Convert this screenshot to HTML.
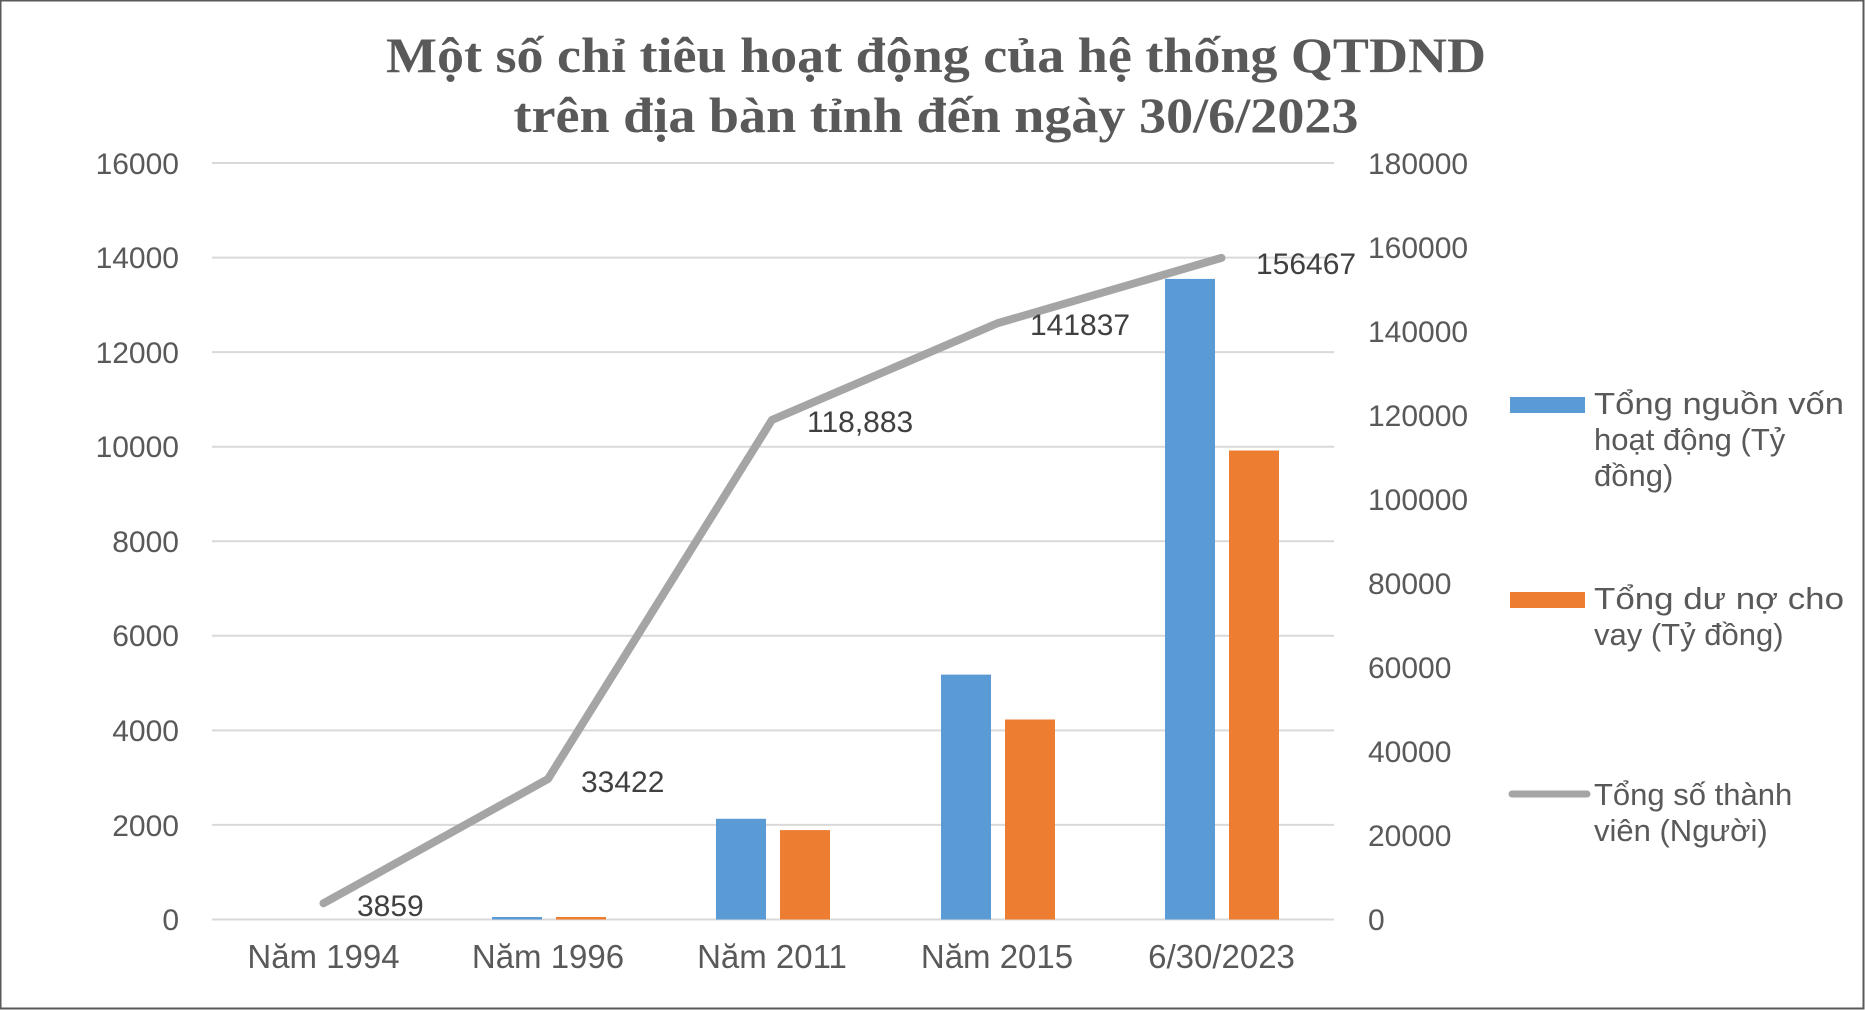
<!DOCTYPE html>
<html><head><meta charset="utf-8"><style>
html,body{margin:0;padding:0;background:#fff}
svg{display:block}
text{font-family:"Liberation Sans","DejaVu Sans",sans-serif;fill:#595959}
</style></head><body>
<svg width="1865" height="1010" viewBox="0 0 1865 1010" xmlns="http://www.w3.org/2000/svg">
<rect x="0.5" y="0.5" width="1863" height="1008" fill="#fff" stroke="#595959" stroke-width="2"/>
<g text-anchor="middle" font-weight="bold" font-size="50">
<text x="936" y="72" textLength="1100" lengthAdjust="spacingAndGlyphs" style="font-family:'Liberation Serif',serif">Một số chỉ tiêu hoạt động của hệ thống QTDND</text>
<text x="936" y="132" textLength="845" lengthAdjust="spacingAndGlyphs" style="font-family:'Liberation Serif',serif">trên địa bàn tỉnh đến ngày 30/6/2023</text>
</g>
<g stroke="#d9d9d9" stroke-width="2">
<line x1="212" x2="1334" y1="163" y2="163"/>
<line x1="212" x2="1334" y1="257.6" y2="257.6"/>
<line x1="212" x2="1334" y1="352.1" y2="352.1"/>
<line x1="212" x2="1334" y1="446.7" y2="446.7"/>
<line x1="212" x2="1334" y1="541.3" y2="541.3"/>
<line x1="212" x2="1334" y1="635.8" y2="635.8"/>
<line x1="212" x2="1334" y1="730.4" y2="730.4"/>
<line x1="212" x2="1334" y1="824.9" y2="824.9"/>
<line x1="212" x2="1334" y1="919.5" y2="919.5"/>
</g>
<g font-size="30" text-anchor="end">
<text x="179" y="174">16000</text>
<text x="179" y="268">14000</text>
<text x="179" y="363">12000</text>
<text x="179" y="457">10000</text>
<text x="179" y="552">8000</text>
<text x="179" y="646">6000</text>
<text x="179" y="741">4000</text>
<text x="179" y="836">2000</text>
<text x="179" y="930">0</text>
</g>
<g font-size="30">
<text x="1368" y="174">180000</text>
<text x="1368" y="258">160000</text>
<text x="1368" y="342">140000</text>
<text x="1368" y="426">120000</text>
<text x="1368" y="510">100000</text>
<text x="1368" y="594">80000</text>
<text x="1368" y="678">60000</text>
<text x="1368" y="762">40000</text>
<text x="1368" y="846">20000</text>
<text x="1368" y="930">0</text>
</g>
<g fill="#5b9bd5">
<rect x="492" y="917" width="50" height="2.5"/>
<rect x="716" y="818.8" width="50" height="100.7"/>
<rect x="941" y="674.6" width="50" height="244.9"/>
<rect x="1165" y="278.9" width="50" height="640.6"/>
</g>
<g fill="#ed7d31">
<rect x="556" y="917" width="50" height="2.5"/>
<rect x="780" y="830.1" width="50" height="89.4"/>
<rect x="1005" y="719.5" width="50" height="200"/>
<rect x="1229" y="450.5" width="50" height="469"/>
</g>
<polyline points="323.5,903.3 548,779 772,419.9 997,323.4 1221.5,257.9" fill="none" stroke="#a5a5a5" stroke-width="8" stroke-linecap="round" stroke-linejoin="round"/>
<g font-size="30">
<text x="357" y="916" style="fill:#404040">3859</text>
<text x="581" y="792" style="fill:#404040">33422</text>
<text x="807" y="432" style="fill:#404040">118,883</text>
<text x="1030" y="335" style="fill:#404040">141837</text>
<text x="1256" y="274" style="fill:#404040">156467</text>
</g>
<g font-size="33" text-anchor="middle">
<text x="323.5" y="968">Năm 1994</text>
<text x="548" y="968">Năm 1996</text>
<text x="772" y="968">Năm 2011</text>
<text x="997" y="968">Năm 2015</text>
<text x="1221.5" y="968">6/30/2023</text>
</g>
<rect x="1510" y="397" width="75" height="16" fill="#5b9bd5"/>
<rect x="1510" y="592" width="75" height="16" fill="#ed7d31"/>
<line x1="1512" x2="1587" y1="794" y2="794" stroke="#a5a5a5" stroke-width="7" stroke-linecap="round"/>
<g font-size="31">
<text x="1594" y="414" textLength="250" lengthAdjust="spacingAndGlyphs">Tổng nguồn vốn</text>
<text x="1594" y="450">hoạt động (Tỷ</text>
<text x="1594" y="486">đồng)</text>
<text x="1594" y="609" textLength="250" lengthAdjust="spacingAndGlyphs">Tổng dư nợ cho</text>
<text x="1594" y="645">vay (Tỷ đồng)</text>
<text x="1594" y="805">Tổng số thành</text>
<text x="1594" y="841">viên (Người)</text>
</g>
</svg>
</body></html>
